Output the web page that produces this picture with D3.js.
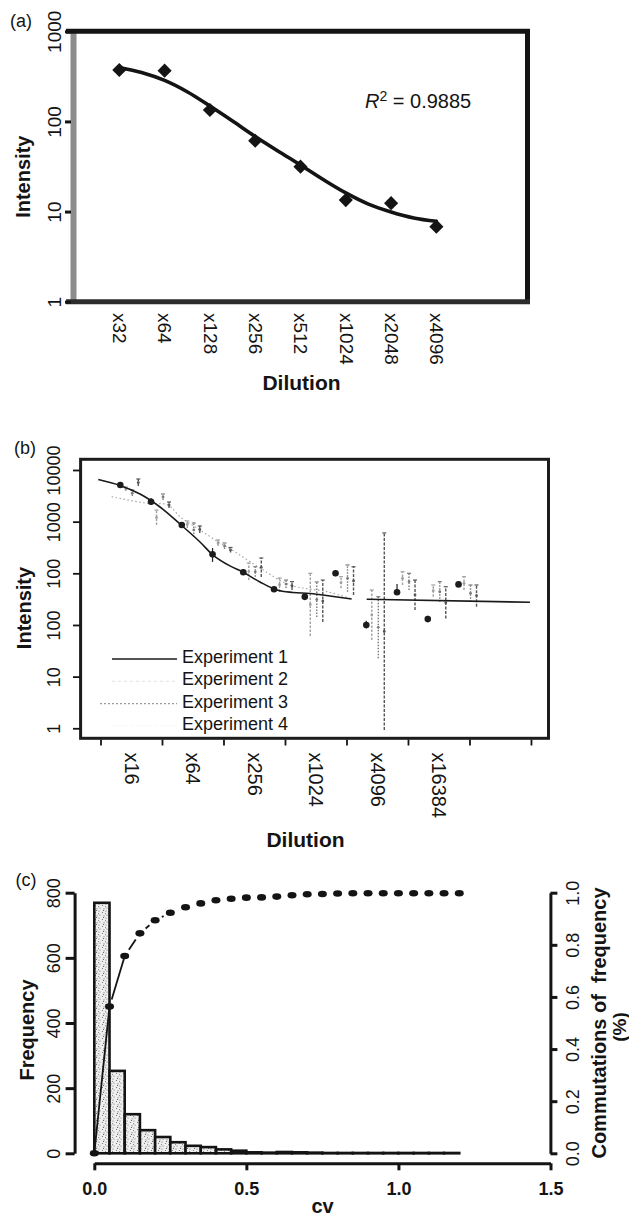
<!DOCTYPE html>
<html>
<head>
<meta charset="utf-8">
<script src="https://cdn.jsdelivr.net/npm/d3@7"></script>
<style>
  body { margin: 0; background: #fff; }
  svg { display: block; font-family: "Liberation Sans", Arial, Helvetica, sans-serif; }
</style>
</head>
<body>
<svg id="fig" width="629" height="1216"></svg>
<script>
// ---------- (a) single dilution series with fitted curve ----------
const dilutionsA   = [32, 64, 128, 256, 512, 1024, 2048, 4096];
const intensityA   = [372, 366, 134, 61.1, 31.5, 13.4, 12.4, 6.8];
const fitDilutionA = [32, 45, 64, 91, 128, 181, 256, 362, 512, 724, 1024, 1448, 2048, 2896, 4096];
const fitIntensityA = [397, 349, 285, 212, 148, 101, 68, 47, 32.9, 22.7, 16.1, 12.1, 9.9, 8.5, 7.8];
const yTicksA = [1, 10, 100, 1000];
const rSquaredA = "0.9885";

// ---------- (b) four experiments ----------
const dilutionsB = [12.5, 25, 50, 100, 200, 400, 800, 1600, 3200, 6400, 12800, 25600];
const exp1Mean = [5130, 2430, 861, 233, 105, 49, 35, 100, 10, 43, 13, 61];
const exp1Lo   = [4600, 2100, 760, 166, 93, 44, 31, 88, 8.5, 40, 11.5, 55];
const exp1Hi   = [5600, 2870, 980, 309, 120, 54, 40, 115, 12, 62, 15, 68];
const exp2Mean = [4290, 1200, 880, 386, 108, 60, 25, 66, 15.6, 80, 46, 64];
const exp2Lo   = [3925, 861, 754, 338, 74, 43.5, 6.1, 51.3, 5.1, 59.4, 35.3, 47.6];
const exp2Hi   = [4690, 1683, 1031, 442, 158, 81, 100, 86, 47.6, 107, 59.4, 86];
const exp3Mean = [3540, 3000, 690, 338, 107, 62, 31, 80, 9, 69, 44, 41];
const exp3Lo   = [3140, 2625, 505, 296, 86, 52, 14.3, 44, 2.26, 47.6, 28.2, 28.2];
const exp3Hi   = [4100, 3430, 942, 386, 134, 74, 68, 145, 35.3, 100, 69, 59.4];
const exp4Mean = [5700, 2100, 705, 283, 130, 57, 29, 71, 7.5, 38, 27, 37];
const exp4Lo   = [4900, 1838, 604, 253, 85, 47.6, 11.4, 38, 0.093, 19.5, 13.4, 22.6];
const exp4Hi   = [6695, 2403, 824, 316, 198, 69, 74, 134, 604, 74, 55, 59.4];
// fitted curve of experiment 1 (null marks the break between its two pieces)
const fitDilutionB1  = [7.61, 12.4, 19.5, 30.6, 48.0, 75.4, 101, 148, 199, 291, 427, 613, 900, 1412, 2302, null, 3229, 128100];
const fitIntensityB1 = [6520, 5010, 3420, 1920, 900, 404, 226, 139, 105, 68, 47.5, 42.6, 40.6, 36.4, 31.8, null, 31.4, 27.5];
// fitted curve of experiment 3
const fitDilutionB3  = [10.3, 22.7, 36.6, 48, 75.4, 118, 155, 291, 573, 1320, 2216];
const fitIntensityB3 = [3043, 2266, 2103, 1247, 690, 386, 283, 127, 59.4, 44.1, 32.9];
const yTicksB      = [0.1, 1, 10, 100, 1000, 10000];
const yTickLabelsB = ["1", "10", "100", "100", "1000", "10000"];
const xTickMarksB  = [8, 32, 128, 512, 2048, 8192, 32768, 131072];
const xLabelDilB   = [16, 64, 256, 1024, 4096, 16384];
const legendB      = ["Experiment 1", "Experiment 2", "Experiment 3", "Experiment 4"];

// ---------- (c) CV histogram with cumulative fraction ----------
const binStartC = [0, 0.05, 0.1, 0.15, 0.2, 0.25, 0.3, 0.35, 0.4, 0.45, 0.5, 0.55,
                   0.6, 0.65, 0.7, 0.75, 0.8, 0.85, 0.9, 0.95, 1.0, 1.05, 1.1, 1.15];
const freqC     = [769, 253, 120, 71, 50, 34, 23, 19, 12, 8, 3, 2,
                   4, 3, 2, 1, 1, 1, 1, 1, 1, 1, 1, 1];
const cumCvC    = [0, 0.05, 0.1, 0.15, 0.2, 0.25, 0.3, 0.35, 0.4, 0.45, 0.5, 0.55, 0.6,
                   0.65, 0.7, 0.75, 0.8, 0.85, 0.9, 0.95, 1.0, 1.05, 1.1, 1.15, 1.2];
const cumFracC  = [0, 0.563, 0.757, 0.844, 0.894, 0.923, 0.944, 0.959, 0.971, 0.977, 0.981, 0.982, 0.985,
                   0.990, 0.994, 0.995, 0.997, 0.998, 0.998, 0.998, 0.998, 0.998, 0.998, 0.998, 0.998];
const binWidthC = 0.05;
const yTicksC  = [0, 200, 400, 600, 800];
const y2TicksC = [0, 0.2, 0.4, 0.6, 0.8, 1.0];
const xTicksC  = [0, 0.5, 1.0, 1.5];

const INK = "#141414";
const svg = d3.select("#fig");

// stippled fill used for histogram bars
const defs = svg.append("defs");
const pat = defs.append("pattern").attr("id", "stipple")
  .attr("patternUnits", "userSpaceOnUse").attr("width", 7).attr("height", 7);
pat.append("rect").attr("width", 7).attr("height", 7).attr("fill", "#efefef");
[[1, 1], [4.5, 2.5], [2, 5], [6, 5.8], [5.5, 0.4], [0.3, 3.6]].forEach(([cx, cy]) =>
  pat.append("circle").attr("cx", cx).attr("cy", cy).attr("r", 0.6).attr("fill", "#6a6a6a"));

function styleAxis(g, size, weight) {
  g.attr("font-family", null).attr("font-size", null);
  g.selectAll("text").style("font-size", size + "px").style("font-weight", weight || "normal").attr("fill", INK);
}
// vertical labels that read bottom-to-top, centred on each tick
function rotateLeftLabels(g, dx, size, weight) {
  styleAxis(g, size, weight);
  g.selectAll(".tick text").attr("x", 0).attr("y", 0).attr("dy", "0.35em")
    .attr("text-anchor", "middle").attr("transform", `translate(${dx},0) rotate(-90)`);
}
// vertical labels that read top-to-bottom, starting below the axis
function rotateDownLabels(g, dy, size) {
  styleAxis(g, size);
  g.selectAll(".tick text").attr("x", 0).attr("y", 0).attr("dy", "0.35em")
    .attr("text-anchor", "start").attr("transform", `translate(0,${dy}) rotate(90)`);
}
function addText(x, y, txt, size, weight, rotate) {
  const t = svg.append("text").attr("fill", INK)
    .style("font-size", size + "px").style("font-weight", weight || "normal")
    .attr("text-anchor", "middle");
  if (rotate) t.attr("transform", `translate(${x},${y}) rotate(${rotate})`).attr("dy", "0.35em");
  else t.attr("x", x).attr("y", y);
  t.text(txt);
  return t;
}

// ===================== panel (a) =====================
const xA = d3.scaleLog().base(2).domain([16, 16384]).range([74, 527]);
const yA = d3.scaleLog().domain([1, 1000]).range([301.7, 31.3]);
const gA = svg.append("g");

gA.append("line").attr("x1", 73.5).attr("x2", 73.5).attr("y1", 29).attr("y2", 304)
  .attr("stroke", "#8c8c8c").attr("stroke-width", 6);
gA.append("line").attr("x1", 66).attr("x2", 530).attr("y1", 31.3).attr("y2", 31.3)
  .attr("stroke", INK).attr("stroke-width", 5);
gA.append("line").attr("x1", 527.5).attr("x2", 527.5).attr("y1", 29).attr("y2", 304)
  .attr("stroke", INK).attr("stroke-width", 5);
gA.append("line").attr("x1", 66).attr("x2", 530).attr("y1", 301.7).attr("y2", 301.7)
  .attr("stroke", "#2c2c2c").attr("stroke-width", 5);

const yAxisA = gA.append("g").attr("transform", "translate(71,0)")
  .call(d3.axisLeft(yA).tickValues(yTicksA).tickFormat(d3.format("d")).tickSize(6).tickPadding(0));
yAxisA.select(".domain").remove();
yAxisA.selectAll(".tick line").attr("stroke", INK).attr("stroke-width", 3);
rotateLeftLabels(yAxisA, -17, 19);

const xAxisA = gA.append("g").attr("transform", "translate(0,304)")
  .call(d3.axisBottom(xA).tickValues(dilutionsA).tickFormat(d => "x" + d).tickSize(0));
xAxisA.select(".domain").remove();
rotateDownLabels(xAxisA, 9, 19);

gA.append("path")
  .datum(fitDilutionA.map((d, i) => [d, fitIntensityA[i]]))
  .attr("d", d3.line().x(d => xA(d[0])).y(d => yA(d[1])).curve(d3.curveCatmullRom))
  .attr("fill", "none").attr("stroke", INK).attr("stroke-width", 3.6)
  .attr("stroke-linecap", "round").attr("stroke-linejoin", "round");

gA.selectAll(".diamond").data(dilutionsA).join("path").attr("class", "diamond")
  .attr("d", d3.symbol(d3.symbolSquare, 100))
  .attr("transform", (d, i) => `translate(${xA(d)},${yA(intensityA[i])}) rotate(45)`)
  .attr("fill", INK);

const r2 = gA.append("text").attr("x", 365).attr("y", 108).attr("fill", INK).style("font-size", "20px");
r2.append("tspan").style("font-style", "italic").text("R");
r2.append("tspan").attr("dy", -7).style("font-size", "14px").text("2");
r2.append("tspan").attr("dy", 7).text(" = " + rSquaredA);

addText(21, 27, "(a)", 18);
addText(23, 176.7, "Intensity", 20, "bold", -90);
addText(301.5, 390, "Dilution", 21, "bold");

// ===================== panel (b) =====================
const xB = d3.scaleLog().base(2).domain([2 ** 2.353, 2 ** 17.57]).range([80.6, 548.5]);
const yB = d3.scaleLog().domain([10 ** -1.194, 10 ** 4.207]).range([738.3, 459.3]);
const gB = svg.append("g");

gB.append("rect").attr("x", 80.6).attr("y", 459.3).attr("width", 548.5 - 80.6).attr("height", 738.3 - 459.3)
  .attr("fill", "none").attr("stroke", "#1c1c1c").attr("stroke-width", 3);

const yAxisB = gB.append("g").attr("transform", "translate(80,0)")
  .call(d3.axisLeft(yB).tickValues(yTicksB).tickFormat((d, i) => yTickLabelsB[i]).tickSize(7).tickPadding(0));
yAxisB.select(".domain").remove();
yAxisB.selectAll(".tick line").attr("stroke", INK).attr("stroke-width", 1.8);
rotateLeftLabels(yAxisB, -26, 18);

const xTicksB = gB.append("g").attr("transform", "translate(0,739.5)")
  .call(d3.axisBottom(xB).tickValues(xTickMarksB).tickFormat("").tickSize(6));
xTicksB.select(".domain").remove();
xTicksB.selectAll(".tick line").attr("stroke", INK).attr("stroke-width", 1.8);

const xLabB = gB.append("g").attr("transform", "translate(0,739.5)")
  .call(d3.axisBottom(xB).tickValues(xLabelDilB).tickFormat(d => "x" + d).tickSize(0));
xLabB.select(".domain").remove();
rotateDownLabels(xLabB, 13, 20);

// experiment series: horizontal dodge so the four error bars sit side by side
const exps = [
  { mean: exp2Mean, lo: exp2Lo, hi: exp2Hi, dodge: 5.5, color: "#a0a0a0", dash: "2.5,1.5" },
  { mean: exp3Mean, lo: exp3Lo, hi: exp3Hi, dodge: 12,  color: "#7a7a7a", dash: "1.5,1.5" },
  { mean: exp4Mean, lo: exp4Lo, hi: exp4Hi, dodge: 18,  color: "#555555", dash: "3,1.5" }
];
const lineB = d3.line().defined(d => d[0] != null)
  .x(d => xB(d[0])).y(d => yB(d[1])).curve(d3.curveCatmullRom);

gB.append("path")
  .datum(fitDilutionB3.map((d, i) => [d, fitIntensityB3[i]]))
  .attr("d", lineB).attr("fill", "none").attr("stroke", "#a8a8a8")
  .attr("stroke-width", 1.2).attr("stroke-dasharray", "1.5,2.5");

exps.forEach((e, k) => {
  const g = gB.append("g").attr("class", "exp" + (k + 2));
  const bars = g.selectAll("g").data(dilutionsB).join("g")
    .attr("transform", d => `translate(${xB(d) + e.dodge},0)`);
  bars.append("line").attr("y1", (d, i) => yB(e.lo[i])).attr("y2", (d, i) => yB(e.hi[i]))
    .attr("stroke", e.color).attr("stroke-width", 1.4).attr("stroke-dasharray", e.dash);
  bars.append("line").attr("x1", -2).attr("x2", 2)
    .attr("y1", (d, i) => yB(e.hi[i])).attr("y2", (d, i) => yB(e.hi[i]))
    .attr("stroke", e.color).attr("stroke-width", 1.2);
  bars.append("circle").attr("cy", (d, i) => yB(e.mean[i])).attr("r", 1.4).attr("fill", e.color);
});

gB.append("path")
  .datum(fitDilutionB1.map((d, i) => [d, fitIntensityB1[i]]))
  .attr("d", lineB).attr("fill", "none").attr("stroke", "#1a1a1a").attr("stroke-width", 1.6);

const e1 = gB.append("g").selectAll("g").data(dilutionsB).join("g")
  .attr("transform", d => `translate(${xB(d)},0)`);
e1.append("line").attr("y1", (d, i) => yB(exp1Lo[i])).attr("y2", (d, i) => yB(exp1Hi[i]))
  .attr("stroke", "#222").attr("stroke-width", 1.2);
e1.append("circle").attr("cy", (d, i) => yB(exp1Mean[i])).attr("r", 3.3).attr("fill", "#1c1c1c");

// legend
const legStyles = [
  { color: "#1a1a1a", dash: null, w: 1.6 },
  { color: "#e2e2e2", dash: "3,3", w: 1 },
  { color: "#9a9a9a", dash: "2,2", w: 1.3 },
  { color: "#f0f0f0", dash: "1,2", w: 1 }
];
const leg = gB.append("g").selectAll("g").data(legendB).join("g")
  .attr("transform", (d, i) => `translate(0,${659 + i * 22.3})`);
leg.append("line").attr("x1", (d, i) => i === 2 ? 100 : 112).attr("x2", 177)
  .attr("stroke", (d, i) => legStyles[i].color)
  .attr("stroke-width", (d, i) => legStyles[i].w)
  .attr("stroke-dasharray", (d, i) => legStyles[i].dash);
leg.append("text").attr("x", 182).attr("y", 4).attr("fill", INK)
  .style("font-size", "18px").text(d => d);

addText(25, 454, "(b)", 18);
addText(24, 608, "Intensity", 20, "bold", -90);
addText(305.5, 846.5, "Dilution", 21, "bold");

// ===================== panel (c) =====================
const xC = d3.scaleLinear().domain([0, 1.5]).range([94.3, 550.5]);
const yC = d3.scaleLinear().domain([0, 800]).range([1153.3, 892.7]);
const yC2 = d3.scaleLinear().domain([0, 1]).range([1153.3, 892.7]);
const gC = svg.append("g");

gC.selectAll("rect.bar").data(binStartC).join("rect").attr("class", "bar")
  .attr("x", d => xC(d)).attr("width", d => xC(d + binWidthC) - xC(d))
  .attr("y", (d, i) => yC(freqC[i])).attr("height", (d, i) => yC(0) - yC(freqC[i]))
  .attr("fill", "url(#stipple)").attr("stroke", INK).attr("stroke-width", 2.6);

const yAxisC = gC.append("g").attr("transform", "translate(74.6,0)")
  .call(d3.axisLeft(yC).tickValues(yTicksC).tickSize(9).tickSizeOuter(0).tickPadding(0));
yAxisC.select(".domain").attr("stroke", INK).attr("stroke-width", 3);
yAxisC.selectAll(".tick line").attr("stroke", INK).attr("stroke-width", 3);
rotateLeftLabels(yAxisC, -21, 18);

const y2AxisC = gC.append("g").attr("transform", "translate(550.4,0)")
  .call(d3.axisRight(yC2).tickValues(y2TicksC).tickFormat(d3.format(".1f")).tickSize(7).tickSizeOuter(0).tickPadding(0));
y2AxisC.select(".domain").attr("stroke", INK).attr("stroke-width", 3);
y2AxisC.selectAll(".tick line").attr("stroke", INK).attr("stroke-width", 3);
rotateLeftLabels(y2AxisC, 22, 18);

const xAxisC = gC.append("g").attr("transform", "translate(0,1163.3)")
  .call(d3.axisBottom(xC).tickValues(xTicksC).tickFormat(d3.format(".1f")).tickSize(7).tickSizeOuter(0));
xAxisC.select(".domain").attr("stroke", INK).attr("stroke-width", 3);
xAxisC.selectAll(".tick line").attr("stroke", INK).attr("stroke-width", 3);
styleAxis(xAxisC, 18, "bold");
xAxisC.selectAll(".tick text").attr("y", 31.5).attr("dy", 0);

// cumulative fraction: points joined by segments that stop short of each point
const cumPts = cumCvC.map((d, i) => [xC(d), yC2(cumFracC[i])]);
const gap = 7.5;
const segs = d3.pairs(cumPts).map(([a, b]) => {
  const dx = b[0] - a[0], dy = b[1] - a[1], len = Math.hypot(dx, dy);
  return { a, b, dx: dx / len, dy: dy / len, len };
}).filter(s => s.len > 2 * gap + 1.5);
gC.selectAll("line.cum").data(segs).join("line").attr("class", "cum")
  .attr("x1", (s, i) => s.a[0] + s.dx * (i === 0 ? 2 : gap)).attr("y1", (s, i) => s.a[1] + s.dy * (i === 0 ? 2 : gap))
  .attr("x2", (s, i) => s.b[0] - s.dx * (i < 2 ? 2 : gap)).attr("y2", (s, i) => s.b[1] - s.dy * (i < 2 ? 2 : gap))
  .attr("stroke", INK).attr("stroke-width", 1.8);
gC.selectAll("ellipse").data(cumPts).join("ellipse")
  .attr("cx", d => d[0]).attr("cy", d => d[1]).attr("rx", 4.5).attr("ry", 3.3)
  .attr("fill", INK);

addText(26, 886, "(c)", 18);
addText(27, 1030, "Frequency", 20, "bold", -90);
addText(599, 1023, "Commutations of\u00a0\u00a0frequency", 20, "bold", -90);
addText(619, 1027, "(%)", 19, "bold", -90);
addText(322.5, 1213, "cv", 20, "bold");
</script>
</body>
</html>
